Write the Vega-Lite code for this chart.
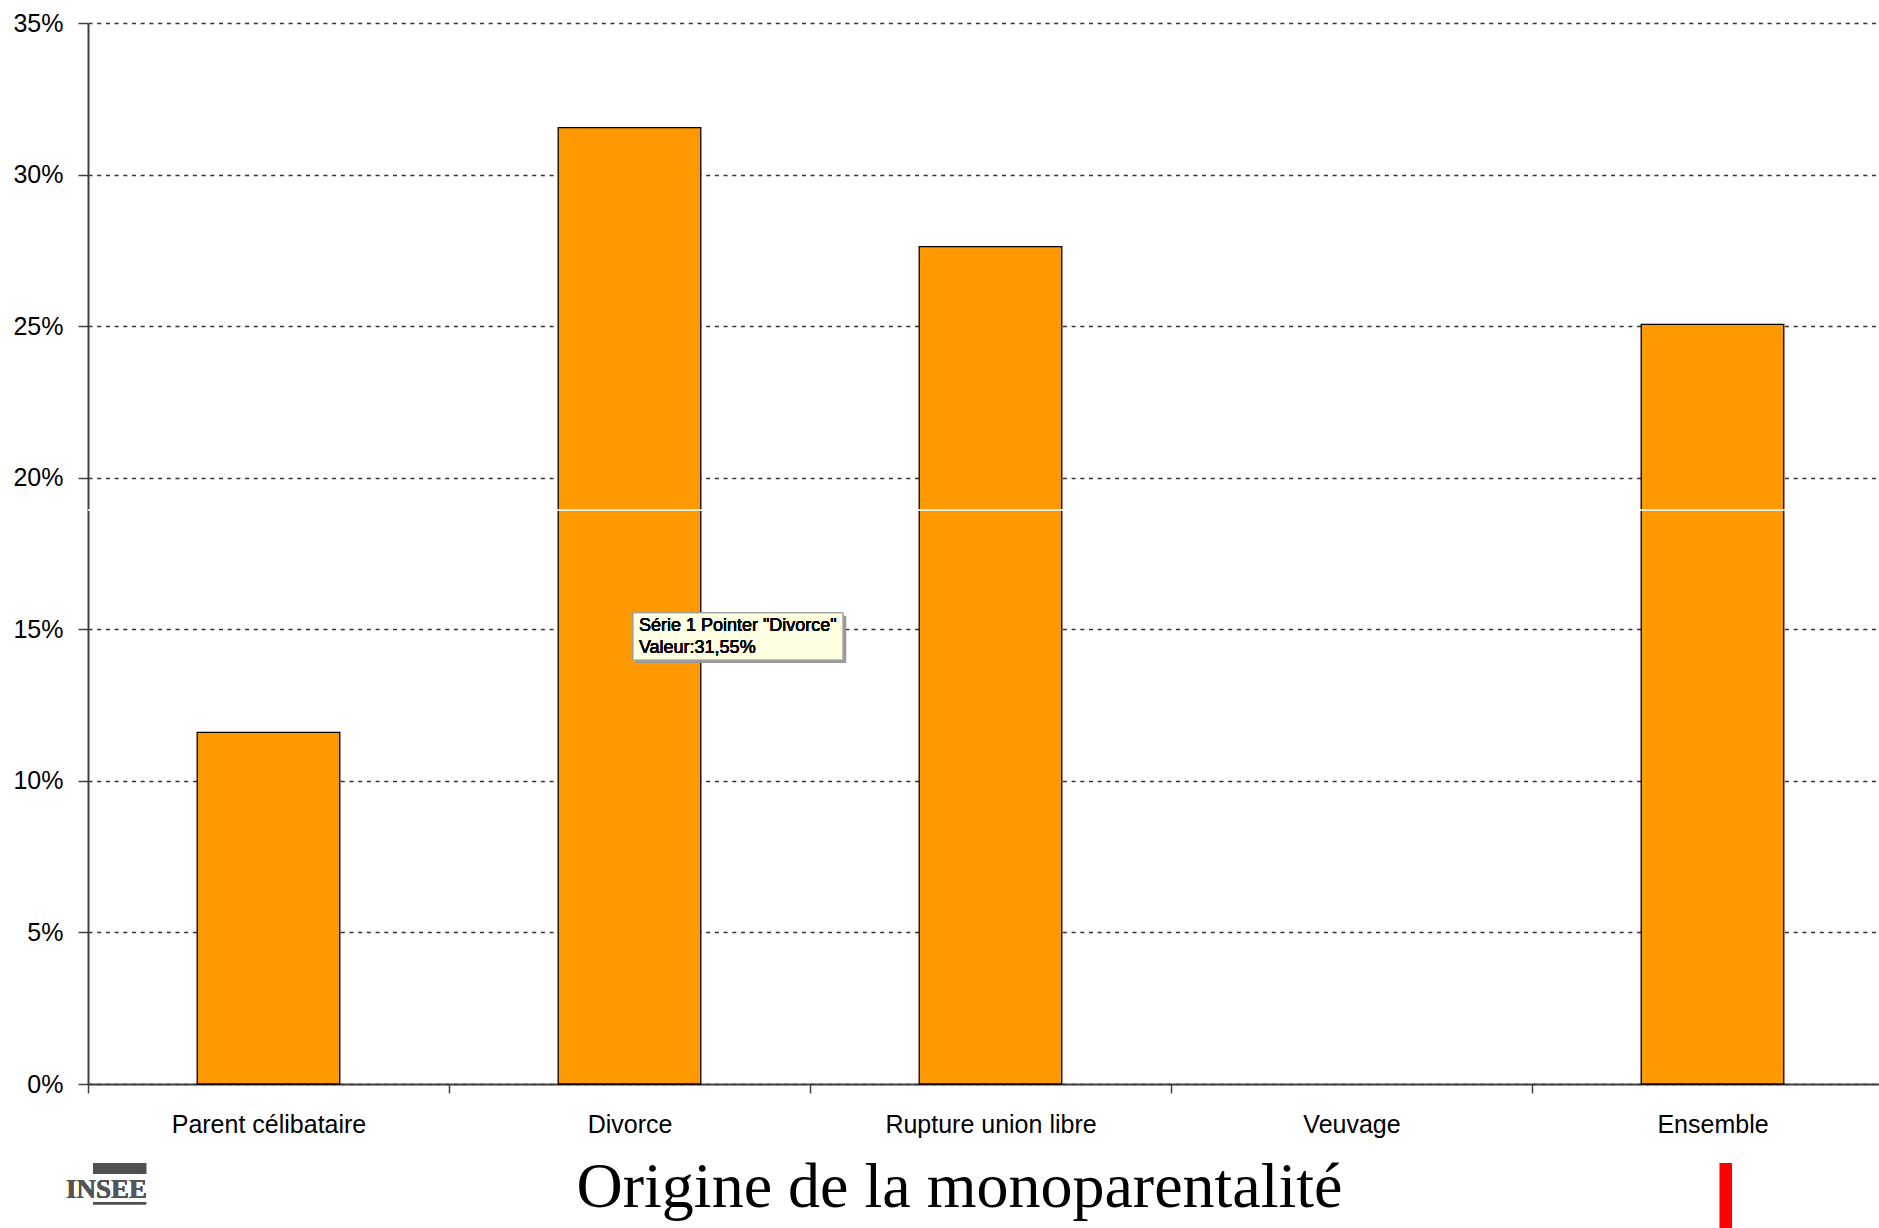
{
  "$schema": "https://vega.github.io/schema/vega-lite/v6.json",
  "width": 1791,
  "height": 1061,
  "autosize": {"type": "none"},
  "padding": {"left": 88, "top": 23, "right": 0, "bottom": 144},
  "background": "white",
  "config": {"view": {"stroke": null}, "font": "Liberation Sans"},
  "title": {
    "text": "Origine de la monoparentalité",
    "orient": "bottom",
    "anchor": "middle",
    "font": "Liberation Serif",
    "fontSize": 64,
    "fontWeight": "normal",
    "color": "#000000",
    "baseline": "alphabetic",
    "offset": -27,
    "dx": -24
  },
  "data": {
    "values": [
      {"origine": "Parent célibataire", "part": 0.116},
      {"origine": "Divorce", "part": 0.3155},
      {"origine": "Rupture union libre", "part": 0.2762},
      {"origine": "Veuvage", "part": 0},
      {"origine": "Ensemble", "part": 0.2506}
    ]
  },
  "layer": [
    {
      "mark": {"type": "bar", "fill": "#FF9900", "stroke": "#000000", "strokeWidth": 1.3, "width": {"band": 0.395}},
      "encoding": {
        "x": {
          "field": "origine",
          "type": "nominal",
          "sort": null,
          "scale": {"paddingInner": 0, "paddingOuter": 0, "range": [0, 1805]},
          "axis": {
            "title": null,
            "tickBand": "extent",
            "labelAngle": 0,
            "labelLimit": 0,
            "labelFont": "Liberation Sans",
            "labelFontSize": 25,
            "labelColor": "#000000",
            "labelPadding": 19,
            "tickSize": 9,
            "tickColor": "#404040",
            "tickWidth": 1.5,
            "domainColor": "#404040",
            "domainWidth": 2,
            "grid": false
          }
        },
        "y": {
          "field": "part",
          "type": "quantitative",
          "scale": {"domain": [0, 0.35], "nice": false},
          "axis": {
            "title": null,
            "values": [0, 0.05, 0.1, 0.15, 0.2, 0.25, 0.3, 0.35],
            "format": ".0%",
            "labelFont": "Liberation Sans",
            "labelFontSize": 25,
            "labelColor": "#000000",
            "labelPadding": 15,
            "tickSize": 10,
            "tickColor": "#404040",
            "tickWidth": 1.5,
            "domainColor": "#404040",
            "domainWidth": 2,
            "grid": true,
            "gridColor": "#333333",
            "gridDash": [4, 4.7],
            "gridWidth": 1.5
          }
        },
        "strokeOpacity": {"condition": {"test": "datum.part == 0", "value": 0}, "value": 1}
      }
    },
    {
      "mark": {"type": "rule", "stroke": "#ffffff", "strokeWidth": 1, "opacity": 0.6},
      "encoding": {"y": {"datum": 0.1893}}
    },
    {
      "mark": {"type": "rect", "fill": "#999999", "opacity": 0.6},
      "encoding": {
        "x": {"datum": "Divorce", "bandPosition": 0.518},
        "x2": {"datum": "Divorce", "bandPosition": 1.1},
        "y": {"datum": 0.1544},
        "y2": {"datum": 0.1389}
      }
    },
    {
      "mark": {"type": "rect", "fill": "#FFFFE1", "stroke": "#A0A0A0", "strokeWidth": 1},
      "encoding": {
        "x": {"datum": "Divorce", "bandPosition": 0.51},
        "x2": {"datum": "Divorce", "bandPosition": 1.091},
        "y": {"datum": 0.1554},
        "y2": {"datum": 0.1399}
      }
    },
    {
      "mark": {"type": "text", "align": "left", "baseline": "middle", "font": "Liberation Sans", "fontSize": 18, "fill": "#000000", "lineHeight": 22, "lineBreak": "\n"},
      "encoding": {
        "x": {"datum": "Divorce", "bandPosition": 0.526},
        "y": {"datum": 0.1511},
        "text": {"value": "Série 1 Pointer \"Divorce\"\nValeur:31,55%"}
      }
    },
    {
      "mark": {"type": "text", "align": "center", "baseline": "alphabetic", "font": "Liberation Serif", "fontWeight": "bold", "fontSize": 27, "fill": "#555555"},
      "encoding": {
        "x": {"datum": "Parent célibataire", "bandPosition": 0.0512},
        "y": {"datum": -0.0376},
        "text": {"value": "INSEE"}
      }
    },
    {
      "mark": {"type": "rule", "stroke": "#505050", "strokeWidth": 11},
      "encoding": {
        "x": {"datum": "Parent célibataire", "bandPosition": 0.0139},
        "x2": {"datum": "Parent célibataire", "bandPosition": 0.161},
        "y": {"datum": -0.0279}
      }
    },
    {
      "mark": {"type": "rule", "stroke": "#505050", "strokeWidth": 2},
      "encoding": {
        "x": {"datum": "Parent célibataire", "bandPosition": 0.0139},
        "x2": {"datum": "Parent célibataire", "bandPosition": 0.161},
        "y": {"datum": -0.0393}
      }
    },
    {
      "mark": {"type": "rule", "stroke": "#FF0000", "strokeWidth": 12},
      "encoding": {
        "x": {"datum": "Ensemble", "bandPosition": 0.537},
        "y": {"datum": -0.0261},
        "y2": {"datum": -0.0475}
      }
    }
  ]
}
